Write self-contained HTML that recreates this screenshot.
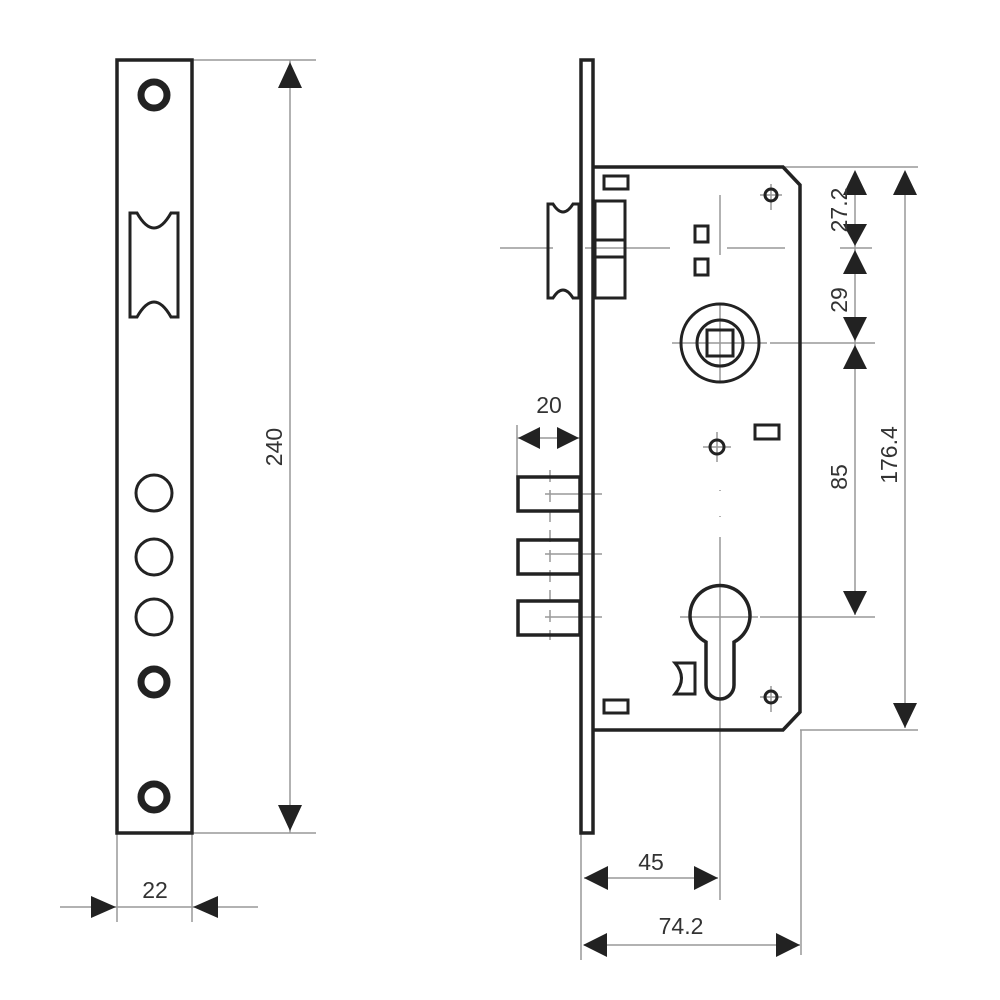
<!DOCTYPE html>
<html><head><meta charset="utf-8"><style>body{margin:0;background:#fff}svg{display:block}</style></head>
<body>
<svg width="1000" height="1000" viewBox="0 0 1000 1000" xmlns="http://www.w3.org/2000/svg" font-family="Liberation Sans, Arial, sans-serif">
<g stroke="#999" stroke-width="1.5" fill="none">
  <line x1="192" y1="60" x2="316" y2="60"/>
  <line x1="192" y1="833" x2="316" y2="833"/>
  <line x1="290" y1="60" x2="290" y2="833"/>
  <line x1="117" y1="833" x2="117" y2="922"/>
  <line x1="192" y1="833" x2="192" y2="922"/>
  <line x1="60" y1="907" x2="258" y2="907"/>
  <line x1="783" y1="167" x2="918" y2="167"/>
  <line x1="800" y1="730" x2="918" y2="730"/>
  <line x1="905" y1="172" x2="905" y2="728"/>
  <line x1="855" y1="172" x2="855" y2="615"/>
  <line x1="840" y1="248" x2="872" y2="248"/>
  <line x1="770" y1="343" x2="875" y2="343"/>
  <line x1="760" y1="617" x2="875" y2="617"/>
  <line x1="581" y1="833" x2="581" y2="960"/>
  <line x1="720" y1="700" x2="720" y2="900"/>
  <line x1="801" y1="730" x2="801" y2="955"/>
  <line x1="584" y1="878" x2="718" y2="878"/>
  <line x1="584" y1="945" x2="800" y2="945"/>
  <line x1="517" y1="425" x2="517" y2="480"/>
  <line x1="517" y1="438" x2="580" y2="438"/>
  <line x1="500" y1="248" x2="553" y2="248"/>
  <line x1="585" y1="248" x2="670" y2="248"/>
  <line x1="727" y1="248" x2="785" y2="248"/>
  <line x1="720" y1="195" x2="720" y2="255"/>
  <line x1="672" y1="343" x2="767" y2="343"/>
  <line x1="720" y1="305" x2="720" y2="383"/>
  <line x1="720" y1="490" x2="720" y2="520" stroke-dasharray="1 25"/>
  <line x1="720" y1="537" x2="720" y2="700"/>
  <line x1="680" y1="617" x2="758" y2="617"/>
  <line x1="545" y1="494" x2="602" y2="494"/>
  <line x1="545" y1="554" x2="602" y2="554"/>
  <line x1="545" y1="617" x2="602" y2="617"/>
  <line x1="550" y1="470" x2="550" y2="640" stroke-dasharray="12 8"/>
  <line x1="760" y1="195" x2="782" y2="195"/><line x1="771" y1="184" x2="771" y2="210"/>
  <line x1="760" y1="697" x2="782" y2="697"/><line x1="771" y1="686" x2="771" y2="712"/>
  <line x1="703" y1="447" x2="731" y2="447"/><line x1="717" y1="432" x2="717" y2="462"/>
</g>
<g fill="#222">
  <polygon points="290,62 278,88 302,88"/>
  <polygon points="290,831 278,805 302,805"/>
  <polygon points="116,907 91,896 91,918"/>
  <polygon points="193,907 218,896 218,918"/>
  <polygon points="905,170 893,195 917,195"/>
  <polygon points="905,728 893,703 917,703"/>
  <polygon points="855,170 843,195 867,195"/>
  <polygon points="855,246 843,224 867,224"/>
  <polygon points="855,250 843,274 867,274"/>
  <polygon points="855,341 843,317 867,317"/>
  <polygon points="855,345 843,369 867,369"/>
  <polygon points="855,615 843,591 867,591"/>
  <polygon points="584,878 608,866 608,890"/>
  <polygon points="718,878 694,866 694,890"/>
  <polygon points="583,945 607,933 607,957"/>
  <polygon points="800,945 776,933 776,957"/>
  <polygon points="518,438 540,427 540,449"/>
  <polygon points="579,438 557,427 557,449"/>
</g>
<g stroke="#222" stroke-width="3.5" fill="none">
  <rect x="117" y="60" width="75" height="773"/>
  <path d="M130,213 L137,213 Q154,243 171,213 L178,213 L178,317 L171,317 Q154,287 137,317 L130,317 Z" stroke-width="3"/>
  <circle cx="154" cy="493" r="18" stroke-width="3"/>
  <circle cx="154" cy="557" r="18" stroke-width="3"/>
  <circle cx="154" cy="617" r="18" stroke-width="3"/>
  <circle cx="154" cy="95" r="13" stroke-width="7"/>
  <circle cx="154" cy="682" r="13" stroke-width="7"/>
  <circle cx="154" cy="797" r="13" stroke-width="7"/>
  <rect x="581" y="60" width="12" height="773"/>
  <path d="M594,167 L783,167 L800,185 L800,712 L783,730 L594,730"/>
  <path d="M548,204 L553,204 Q563,220 573,204 L579,204 L579,298 L573,298 Q563,282 553,298 L548,298 Z" stroke-width="3"/>
  <rect x="595" y="201" width="30" height="97" stroke-width="3"/>
  <line x1="595" y1="240" x2="625" y2="240" stroke-width="3"/>
  <line x1="595" y1="257" x2="625" y2="257" stroke-width="3"/>
  <rect x="604" y="176" width="24" height="13" stroke-width="3"/>
  <rect x="604" y="700" width="24" height="13" stroke-width="3"/>
  <rect x="695" y="226" width="13" height="16" stroke-width="3"/>
  <rect x="695" y="259" width="13" height="16" stroke-width="3"/>
  <rect x="755" y="425" width="24" height="14" stroke-width="3"/>
  <circle cx="771" cy="195" r="6" stroke-width="3"/>
  <circle cx="771" cy="697" r="6" stroke-width="3"/>
  <circle cx="717" cy="447" r="7" stroke-width="3"/>
  <circle cx="720" cy="343" r="39" stroke-width="3"/>
  <circle cx="720" cy="343" r="23" stroke-width="3"/>
  <rect x="707" y="330" width="26" height="26" stroke-width="3"/>
  <rect x="518" y="477" width="62" height="34"/>
  <rect x="518" y="540" width="62" height="34"/>
  <rect x="518" y="601" width="62" height="34"/>
  <path d="M706,642 A30,30 0 1 1 734,642 L734,685 A14,14 0 0 1 706,685 Z" stroke-width="3.5"/>
  <path d="M675,663 L695,663 L695,694 L675,694 Q688,678 675,663 Z" stroke-width="3"/>
</g>
<g fill="#333" font-size="23" text-anchor="middle">
  <text x="155" y="898">22</text>
  <text x="651" y="870">45</text>
  <text x="681" y="934">74.2</text>
  <text x="549" y="413">20</text>
  <text transform="translate(282,447) rotate(-90)">240</text>
  <text transform="translate(847,210) rotate(-90)">27.2</text>
  <text transform="translate(847,300) rotate(-90)">29</text>
  <text transform="translate(847,477) rotate(-90)">85</text>
  <text transform="translate(897,455) rotate(-90)">176.4</text>
</g>
</svg>
</body></html>
